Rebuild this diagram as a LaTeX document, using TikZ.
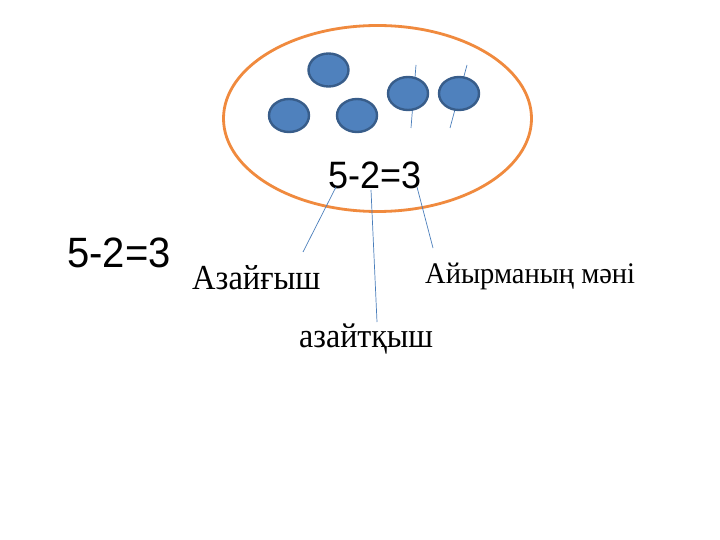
\documentclass[tikz,border=0pt]{standalone}
\usepackage{fontspec}
\setmainfont{Liberation Serif}
\newfontfamily\eqfont{Liberation Sans}
\usetikzlibrary{shapes.geometric}
\definecolor{setorange}{HTML}{F08A3E}
\definecolor{ballfill}{HTML}{4F81BD}
\definecolor{ballline}{HTML}{385D8A}
\definecolor{leader}{HTML}{4A7EBB}
\begin{document}
\begin{tikzpicture}[x=1pt,y=-1pt,
  ball/.style={ellipse,draw=ballline,fill=ballfill,line width=2.4pt,minimum width=40pt,minimum height=33pt,inner sep=0pt},
  leaderline/.style={draw=leader,line width=0.7pt},
  eqtext/.style={inner sep=0pt,anchor=base west,font=\eqfont},
  lbl/.style={inner sep=0pt,anchor=base west}]
\useasboundingbox (0,0) rectangle (720,540);
\fill[white] (0,0) rectangle (720,540);
\node[ellipse,draw=setorange,line width=2.8pt,minimum width=308pt,minimum height=186pt,inner sep=0pt] (set) at (377.5,118.5) {};
\coordinate (t4) at (416,65); \coordinate (b4) at (411,128);
\coordinate (t5) at (467,65); \coordinate (b5) at (450,128);
\draw[leaderline] (t4) -- (b4);
\draw[leaderline] (t5) -- (b5);
\node[ball] (c1) at (328.5,70) {};
\node[ball] (c2) at (289,115.5) {};
\node[ball] (c3) at (357,115.5) {};
\node[ball] (c4) at (408,93.5) {};
\node[ball] (c5) at (459,93.5) {};
\node[eqtext,font=\eqfont\fontsize{36}{40}\selectfont] (eqc) at (328,189) {\scalebox{1}[1.06]{5-2=3}};
\node[eqtext,font=\eqfont\fontsize{40}{44}\selectfont] (eql) at (67,267) {\scalebox{1}[1.06]{5-2=3}};
\node[lbl,font=\fontsize{32.5}{36}\selectfont] (minuend) at (192,289) {\scalebox{1}[1.08]{Азайғыш}};
\node[lbl,font=\fontsize{28.5}{32}\selectfont] (diff) at (425,283) {\scalebox{1}[1.05]{Айырманың мәні}};
\node[lbl,font=\fontsize{32}{36}\selectfont] (subtr) at (299,347) {\scalebox{1}[1.08]{азайтқыш}};
\coordinate (pA) at (336,187); \coordinate (qA) at (303,252);
\coordinate (pB) at (371,190); \coordinate (qB) at (377,322);
\coordinate (pC) at (417,187); \coordinate (qC) at (433,248);
\draw[leaderline] (pA) -- (qA);
\draw[leaderline] (pB) -- (qB);
\draw[leaderline] (pC) -- (qC);
\end{tikzpicture}
\end{document}
